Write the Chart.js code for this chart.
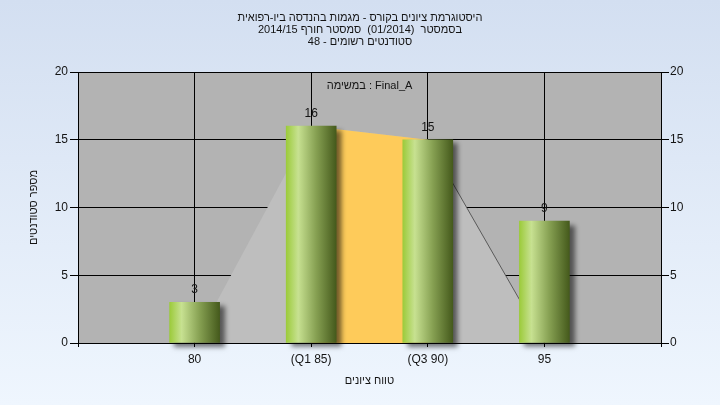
<!DOCTYPE html>
<html><head><meta charset="utf-8">
<script src="https://cdn.jsdelivr.net/npm/chart.js@4.4.1/dist/chart.umd.min.js"></script>
<style>html,body{margin:0;padding:0;width:720px;height:405px;overflow:hidden;background:#e4edf9}#c{display:block}</style>
</head><body><canvas id="c" width="720" height="405"></canvas>
<script>
// ---- data ----
const titleLines = [
  'היסטוגרמת ציונים בקורס - מגמות בהנדסה ביו-רפואית',
  'בסמסטר  (01/2014)  סמסטר חורף 2014/15',
  'סטודנטים רשומים - 48'
];
const tickLabels = ['80', '(Q1 85)', '(Q3 90)', '95'];
const categoryPositions = [1, 2, 3, 4];
const barValues = [3, 16, 15, 9];
const outlineValues = [0, 16, 15, 0];
const iqrPositions = [2, 3];
const iqrValues = [16, 15];
const annotationText = 'במשימה : Final_A';
const xTitle = 'טווח ציונים';
const yTitle = 'מספר סטודנטים';

const FONT = "'Liberation Sans', Arial, 'DejaVu Sans', sans-serif";
const BAR_W = 50;
const TXT = '#141414';

const bgPlugin = {
  id: 'bg',
  beforeDraw(chart) {
    const {ctx, width, height, chartArea: a} = chart;
    ctx.save();
    const g = ctx.createLinearGradient(0, 0, 0, height);
    g.addColorStop(0, '#d3dff1');
    g.addColorStop(1, '#eff6fe');
    ctx.fillStyle = g;
    ctx.fillRect(0, 0, width, height);
    ctx.fillStyle = '#b3b3b3';
    ctx.fillRect(a.left, a.top, a.right - a.left, a.bottom - a.top);
    ctx.restore();
  }
};
const shadowPlugin = {
  id: 'shadow',
  beforeDatasetDraw(chart, args) {
    if (args.meta.type !== 'bar') return;
    const ctx = chart.ctx;
    args.meta.data.forEach(el => {
      if (!isFinite(el.x)) return;
      const g = ctx.createLinearGradient(el.x - BAR_W / 2, 0, el.x + BAR_W / 2, 0);
      g.addColorStop(0, '#9ccb3b');
      g.addColorStop(0.24, '#c7e191');
      g.addColorStop(0.6, '#86a052');
      g.addColorStop(1, '#455a1c');
      el.options.backgroundColor = g;
    });
    ctx.save();
    ctx.shadowColor = 'rgba(0,0,0,0.55)';
    ctx.shadowBlur = 5;
    ctx.shadowOffsetX = 5;
    ctx.shadowOffsetY = 4;
  },
  afterDatasetDraw(chart, args) {
    if (args.meta.type !== 'bar') return;
    chart.ctx.restore();
  }
};
const labelPlugin = {
  id: 'labels',
  afterDatasetsDraw(chart) {
    const {ctx, chartArea: a} = chart;
    const meta = chart.getDatasetMeta(0);
    ctx.save();
    ctx.direction = 'ltr';
    ctx.fillStyle = TXT;
    ctx.textBaseline = 'middle';
    ctx.textAlign = 'center';
    ctx.font = '12px ' + FONT;
    meta.data.forEach((el, i) => {
      ctx.fillText(String(barValues[i]), el.x, el.y - 12.5);
    });
    ctx.font = '11px ' + FONT;
    ctx.fillText(annotationText, (a.left + a.right) / 2, a.top + 14);
    ctx.restore();
  }
};

new Chart(document.getElementById('c'), {
  type: 'bar',
  data: {
    datasets: [
      {
        type: 'bar',
        order: 0,
        data: categoryPositions.map((x, i) => ({x, y: barValues[i]})),
        barThickness: BAR_W,
        clip: false,
        borderWidth: 0,
        backgroundColor: c => '#a0c850'
      },
      {
        type: 'line',
        order: 1,
        data: iqrPositions.map((x, i) => ({x, y: iqrValues[i]})),
        fill: 'origin',
        backgroundColor: '#fecb5a',
        borderWidth: 0,
        pointRadius: 0,
        tension: 0
      },
      {
        type: 'line',
        order: 2,
        data: categoryPositions.map((x, i) => ({x, y: outlineValues[i]})),
        fill: 'origin',
        backgroundColor: '#bebebe',
        borderWidth: 1,
        borderColor: '#555',
        segment: { borderColor: s => s.p0DataIndex === 2 ? '#5a5a5a' : 'rgba(0,0,0,0)' },
        pointRadius: 0,
        tension: 0
      }
    ]
  },
  options: {
    responsive: false,
    animation: false,
    events: [],
    layout: { padding: 0 },
    plugins: {
      legend: { display: false },
      tooltip: { enabled: false },
      title: {
        display: true,
        text: titleLines,
        color: TXT,
        font: { family: FONT, size: 11, lineHeight: '12px', weight: 'normal' },
        padding: { top: 12, bottom: 24 }
      }
    },
    scales: {
      x: {
        type: 'linear',
        min: 0, max: 5,
        offset: false,
        grid: { offset: false, color: '#000', lineWidth: 1, tickLength: 4, drawTicks: true },
        border: { color: '#000', width: 1 },
        ticks: {
          stepSize: 1, autoSkip: false, maxRotation: 0, padding: 5,
          color: TXT, font: { family: FONT, size: 12 },
          callback: v => (v >= 1 && v <= 4) ? tickLabels[v - 1] : ''
        },
        title: {
          display: true, text: xTitle, color: TXT,
          font: { family: FONT, size: 11, lineHeight: '12px' },
          padding: { top: 0, bottom: 18 }
        },
        afterFit: s => { s.height = 62; }
      },
      y: {
        position: 'left',
        min: 0, max: 20,
        grid: { color: '#000', lineWidth: 1, tickLength: 8 },
        border: { color: '#000', width: 1 },
        ticks: { stepSize: 5, padding: 2, color: TXT, font: { family: FONT, size: 12 } },
        title: {
          display: true, text: yTitle, color: TXT,
          font: { family: FONT, size: 11, lineHeight: '12px' },
          padding: { top: 28, bottom: 0 }
        },
        afterFit: s => { s.width = 78; }
      },
      y2: {
        position: 'right',
        min: 0, max: 20,
        grid: { drawOnChartArea: false, color: '#000', lineWidth: 1, tickLength: 8 },
        border: { color: '#000', width: 1 },
        ticks: { stepSize: 5, padding: 1, color: TXT, font: { family: FONT, size: 12 } },
        afterFit: s => { s.width = 59; }
      }
    }
  },
  plugins: [bgPlugin, shadowPlugin, labelPlugin]
});
</script>
</body></html>
